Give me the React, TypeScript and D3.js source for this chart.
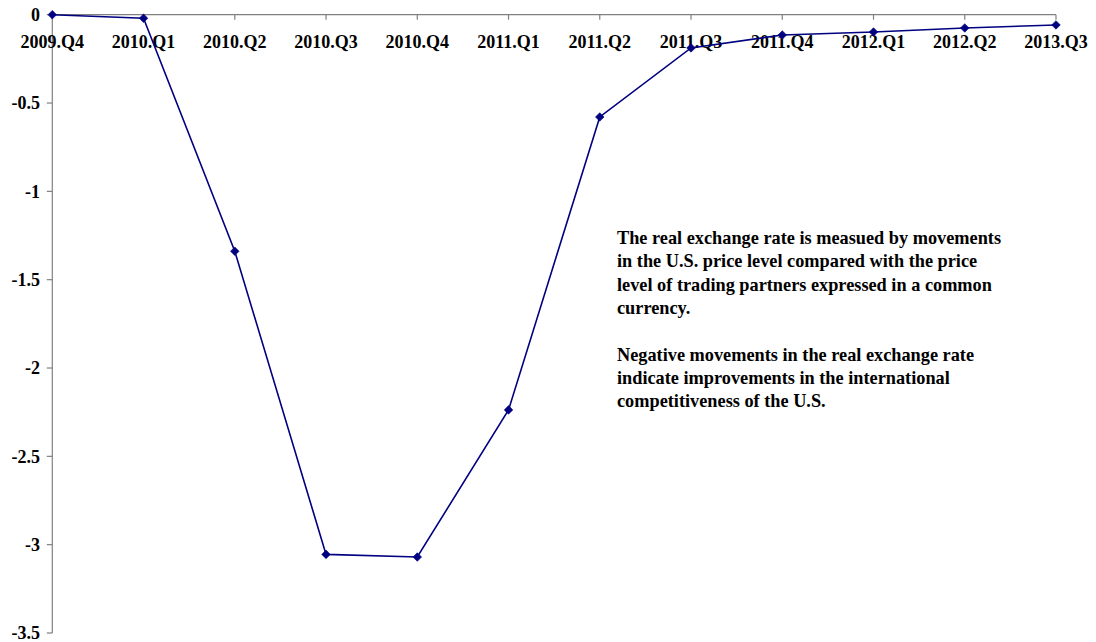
import React from "react";
import * as d3 from "d3";

// Quarterly movement in the U.S. real exchange rate (percent)
const quarters = [
  "2009.Q4", "2010.Q1", "2010.Q2", "2010.Q3", "2010.Q4", "2011.Q1",
  "2011.Q2", "2011.Q3", "2011.Q4", "2012.Q1", "2012.Q2", "2013.Q3",
];
const rateChange = [0, -0.02, -1.339, -3.055, -3.07, -2.237, -0.579, -0.188, -0.115, -0.098, -0.075, -0.058];
const yTicks = [0, -0.5, -1, -1.5, -2, -2.5, -3, -3.5];

const noteParagraphs = [
  [
    "The real exchange rate is measued by movements",
    "in the U.S. price level compared with the price",
    "level of trading partners expressed in a common",
    "currency.",
  ],
  [
    "Negative movements in the real exchange rate",
    "indicate improvements in the international",
    "competitiveness of the U.S.",
  ],
];

const W = 1096;
const H = 642;
const FONT = "'Liberation Serif', 'Times New Roman', serif";
const AXIS = "#808080";
const LINE = "#000080";

export default function App() {
  const x = d3.scalePoint<string>().domain(quarters).range([52.3, 1056]);
  const y = d3.scaleLinear().domain([-3.5, 0]).range([633, 14.7]);

  const line = d3
    .line<number>()
    .x((_, i) => x(quarters[i]) as number)
    .y((d) => y(d));

  const diamond = (cx: number, cy: number, r: number) =>
    `M${cx},${cy - r}L${cx + r},${cy}L${cx},${cy + r}L${cx - r},${cy}Z`;

  const xAxisY = y(0);
  const lineH = 23.3;
  const noteX = 617;
  const noteY0 = 244;

  let row = 0;
  const noteRows: { text: string; yy: number }[] = [];
  noteParagraphs.forEach((p, pi) => {
    if (pi > 0) row += 1;
    p.forEach((t) => {
      noteRows.push({ text: t, yy: noteY0 + row * lineH });
      row += 1;
    });
  });

  return (
    <svg
      width={W}
      height={H}
      style={{ position: "absolute", left: 0, top: 0, background: "#fff" }}
      fontFamily={FONT}
      fontWeight="bold"
    >
      {/* y axis */}
      <line x1={x(quarters[0])} x2={x(quarters[0])} y1={y(0)} y2={y(-3.5)} stroke={AXIS} strokeWidth={1.2} />
      {yTicks.map((t) => (
        <g key={t}>
          <line x1={x(quarters[0])! - 5.5} x2={x(quarters[0])} y1={y(t)} y2={y(t)} stroke={AXIS} strokeWidth={1.2} />
          <text x={40} y={y(t)} dy="0.35em" textAnchor="end" fontSize={18} fill="#000">
            {t === 0 ? "0" : String(t)}
          </text>
        </g>
      ))}

      {/* x axis along zero */}
      <line x1={x(quarters[0])} x2={x(quarters[quarters.length - 1])} y1={xAxisY} y2={xAxisY} stroke={AXIS} strokeWidth={1.2} />
      {quarters.map((q) => (
        <g key={q}>
          <line x1={x(q)} x2={x(q)} y1={xAxisY} y2={xAxisY + 5} stroke={AXIS} strokeWidth={1.2} />
          <text x={x(q)} y={48} textAnchor="middle" fontSize={18} fill="#000">
            {q}
          </text>
        </g>
      ))}

      {/* series */}
      <path d={line(rateChange) || ""} fill="none" stroke={LINE} strokeWidth={1.6} />
      {rateChange.map((v, i) => (
        <path key={i} d={diamond(x(quarters[i]) as number, y(v), 4.3)} fill={LINE} stroke={LINE} strokeWidth={0.6} />
      ))}

      {/* note */}
      {noteRows.map((r, i) => (
        <text key={i} x={noteX} y={r.yy} fontSize={18.3} fill="#000">
          {r.text}
        </text>
      ))}
    </svg>
  );
}
